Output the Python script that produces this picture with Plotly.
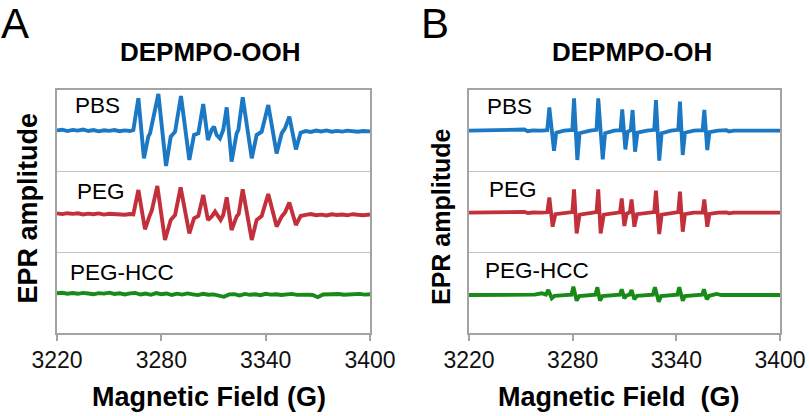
import plotly.graph_objects as go

# ---------------- data ----------------
# Panel A : DEPMPO-OOH
a_pbs_field = [3220, 3223, 3226, 3229, 3232, 3235, 3238, 3241, 3244, 3247, 3250, 3253, 3256, 3259, 3262,
               3263.9, 3266.8, 3270.0, 3272.5, 3273.5, 3278.3, 3282.7, 3285.4, 3287.9, 3291.3, 3296.1,
               3298.8, 3301.3, 3304.1, 3306.8, 3308.9, 3310.3, 3311.8, 3313.7, 3315.6, 3317.6, 3320.4,
               3323.3, 3324.3, 3326.8, 3332.0, 3334.8, 3337.7, 3341.5, 3346.3, 3349.2, 3351.1, 3353.6,
               3357.4, 3360.1, 3363, 3366, 3369, 3372, 3375, 3378, 3381, 3384, 3387, 3390, 3393, 3396, 3400]
a_pbs_amp = [0.3, 1.0, -0.4, 0.8, 0.1, 1.2, -0.3, 0.6, -0.6, 0.4, -0.2, 0.7, -0.5, 0.3, -0.3,
             0.7, 32.4, -27.6, -6.0, -2.7, 36.7, -35.3, -6.0, -1.0, 34.7, -29.3,
             -4.3, -2.7, 26.7, -9.3, 0.7, 4.0, -4.3, -7.7, 0.7, 23.4, -31.0,
             -2.7, 0.7, 33.4, -27.6, -4.3, -1.0, 25.7, -22.7, -2.7, 2.3, 14.0,
             -18.7, -2.0, -0.4, -1.2, 0.2, -0.8, 0.3, -1.0, -0.2, -0.9, 0.1, -0.6, -1.1, -0.3, -0.7]

a_peg_field = [3220, 3223, 3226, 3229, 3232, 3235, 3238, 3241, 3244, 3247, 3250, 3253, 3256, 3259, 3262,
               3263.9, 3266.8, 3270.6, 3273.1, 3274.5, 3277.7, 3282.1, 3285.4, 3287.9, 3291.1, 3296.1,
               3298.8, 3301.3, 3304.1, 3306.8, 3308.9, 3310.9, 3312.8, 3314.1, 3315.6, 3317.6, 3320.4,
               3323.3, 3324.5, 3326.8, 3332.0, 3334.8, 3337.7, 3341.5, 3346.3, 3349.2, 3351.1, 3353.6,
               3357.4, 3360.1, 3363, 3366, 3369, 3372, 3375, 3378, 3381, 3384, 3387, 3390, 3393, 3396, 3400]
a_peg_amp = [0.9, 0.2, 1.1, 0.4, 1.0, -0.2, 0.7, 0.1, 0.9, -0.3, 0.5, 0.2, 0.8, -0.4, 0.3,
             0.0, 24.3, -15.0, -2.3, 3.7, 28.3, -25.7, -5.7, -0.7, 27.0, -19.0,
             -4.0, -1.7, 19.3, -5.7, -2.3, 2.7, -2.3, -5.7, -0.7, 17.0, -15.7,
             -2.3, 0.3, 25.0, -25.7, -5.7, -1.7, 20.3, -12.3, -2.3, 1.7, 11.7,
             -10.7, -1.7, -0.6, 0.2, -0.9, -0.3, -1.1, 0.0, -0.7, -0.2, -1.0, 0.1, -0.5, -0.9, -0.2]

a_hcc_field = [3220, 3223, 3226, 3229, 3232, 3235, 3238, 3241, 3244, 3247, 3250, 3253, 3256, 3259, 3262,
               3265, 3268, 3271, 3274, 3277, 3280, 3283, 3286, 3289, 3292, 3295, 3298, 3301, 3304, 3307,
               3310, 3313, 3316, 3319, 3322, 3325, 3328, 3331, 3334, 3337, 3340, 3343, 3346, 3349, 3352,
               3355, 3358, 3361, 3364, 3367, 3370, 3373, 3376, 3379, 3382, 3385, 3388, 3391, 3394, 3397, 3400]
a_hcc_amp = [0.8, 1.2, 0.3, 1.0, 0.2, 1.1, 0.5, -0.3, 0.9, 0.4, 1.3, 0.1, 0.7, -0.4, 0.6,
             1.0, -0.5, 0.4, -0.8, 0.9, -0.2, 0.5, -1.0, 0.3, -0.6, 0.6, -0.3, -1.1, 0.2, -0.7,
             -0.4, -1.2, -2.8, -0.4, -0.2, -1.5, 0.1, -0.8, -0.3, -1.2, 0.2, -0.6, -0.2, -1.0, -0.4,
             0.1, -0.9, -0.3, -0.6, -1.0, -3.2, -0.5, -0.2, -0.6, 0.0, -0.7, -0.3, -0.5, 0.1, -0.6, -0.3]

# Panel B : DEPMPO-OH
b_pbs_field = [3220, 3230, 3240, 3248, 3252, 3254, 3257, 3262, 3265.3,
               3266.5, 3269.2, 3270.5, 3275, 3279.8,
               3280.8, 3282.7, 3284.0, 3290, 3293.8,
               3294.8, 3297.4, 3298.8, 3304, 3307.7,
               3308.7, 3310.5, 3311.8, 3313.6,
               3314.7, 3316.1, 3317.5, 3323, 3327.2,
               3328.2, 3330.1, 3331.5, 3337, 3341.1,
               3342.1, 3343.7, 3345.0, 3350, 3355.2,
               3356.2, 3357.9, 3359.2, 3364, 3369, 3370.5, 3373, 3385, 3400]
b_pbs_amp = [0.0, 0.3, 0.0, 0.3, 1.2, -0.5, 0.3, 0.0, 0.5,
             23.3, -20.0, -2.0, 0.0, 0.8,
             32.3, -29.3, -2.5, 0.0, 0.8,
             32.3, -28.7, -2.5, 0.0, 0.5,
             21.3, -18.7, -1.0, 0.5,
             20.7, -21.0, -2.0, 0.0, 0.8,
             30.7, -30.0, -2.5, 0.0, 0.8,
             29.0, -24.3, -2.0, 0.0, 0.5,
             20.7, -19.3, -1.5, 0.0, 0.5, -0.8, 0.0, 0.0, 0.0]

b_peg_field = [3220, 3230, 3240, 3248, 3252, 3254, 3257, 3262, 3265.3,
               3266.5, 3268.4, 3270.0, 3275, 3279.8,
               3280.8, 3282.3, 3284.0, 3290, 3293.8,
               3294.8, 3296.2, 3298.0, 3304, 3307.4,
               3308.4, 3309.9, 3311.3, 3313.1,
               3314.1, 3315.7, 3317.2, 3323, 3327.2,
               3328.2, 3330.1, 3331.5, 3337, 3341.1,
               3342.1, 3343.7, 3345.0, 3350, 3355.2,
               3356.2, 3357.9, 3359.2, 3364, 3369, 3370.5, 3373, 3385, 3400]
b_peg_amp = [0.0, 0.2, 0.0, 0.3, 0.9, -0.4, 0.2, 0.0, 0.4,
             15.3, -14.0, -1.5, 0.0, 0.6,
             23.3, -20.7, -2.0, 0.0, 0.6,
             23.3, -20.7, -2.0, 0.0, 0.4,
             14.3, -13.3, -1.0, 0.4,
             13.3, -14.0, -1.5, 0.0, 0.6,
             22.0, -21.3, -2.0, 0.0, 0.6,
             21.0, -19.0, -1.5, 0.0, 0.4,
             13.3, -14.0, -1.2, 0.0, 0.4, -0.6, 0.0, 0.0, 0.0]

b_hcc_field = [3220, 3240, 3258, 3262.1, 3264.5,
               3265.9, 3267.9, 3269.5, 3275, 3279.3,
               3280.4, 3282.3, 3283.8, 3290, 3293.2,
               3294.3, 3295.8, 3297.3, 3304, 3307.3,
               3308.4, 3309.9, 3311.2, 3313.0,
               3314.1, 3315.7, 3317.2, 3323, 3326.5,
               3327.6, 3329.8, 3331.2, 3337, 3340.6,
               3341.7, 3343.7, 3345.0, 3350, 3354.9,
               3356.0, 3357.6, 3359.0, 3363.3, 3366, 3380, 3400]
b_hcc_amp = [0.0, 0.0, 0.3, 1.7, 0.4,
             5.0, -3.3, -0.8, 0.0, 0.4,
             8.3, -5.7, -1.0, 0.0, 0.4,
             7.7, -5.7, -1.0, 0.0, 0.4,
             5.7, -3.3, -0.5, 0.4,
             5.0, -4.3, -0.8, 0.0, 0.4,
             7.7, -6.7, -1.0, 0.0, 0.4,
             7.7, -5.7, -1.0, 0.0, 0.4,
             5.7, -4.3, -0.8, 1.0, 0.0, 0.0, 0.0]

x_ticks = [3220, 3280, 3340, 3400]
sample_names = ["PBS", "PEG", "PEG-HCC"]
colors = {"PBS": "#1b78c4", "PEG": "#c2313b", "PEG-HCC": "#178a17"}
# vertical stacking offsets (arbitrary amplitude units)
offsets_a = {"PBS": 202.3, "PEG": 118.7, "PEG-HCC": 39.0}
offsets_b = {"PBS": 202.3, "PEG": 120.3, "PEG-HCC": 38.0}

panel_a = {"PBS": (a_pbs_field, a_pbs_amp), "PEG": (a_peg_field, a_peg_amp),
           "PEG-HCC": (a_hcc_field, a_hcc_amp)}
panel_b = {"PBS": (b_pbs_field, b_pbs_amp), "PEG": (b_peg_field, b_peg_amp),
           "PEG-HCC": (b_hcc_field, b_hcc_amp)}

# ---------------- figure ----------------
W, H = 810, 416
FONT = "Liberation Sans, Arial, sans-serif"
fig = go.Figure()

for name in sample_names:
    f, a = panel_a[name]
    fig.add_trace(go.Scatter(x=f, y=[v + offsets_a[name] for v in a], mode="lines",
                             line=dict(color=colors[name], width=3.9), xaxis="x", yaxis="y",
                             hoverinfo="skip"))
for name in sample_names:
    f, a = panel_b[name]
    fig.add_trace(go.Scatter(x=f, y=[v + offsets_b[name] for v in a], mode="lines",
                             line=dict(color=colors[name], width=3.8), xaxis="x2", yaxis="y2",
                             hoverinfo="skip"))

frame = "#a3a3a3"
xcommon = dict(range=[3220, 3400], tickvals=x_ticks, ticktext=[str(t) for t in x_ticks],
               ticks="outside", ticklen=6, tickwidth=1.5, tickcolor=frame,
               showline=True, linecolor=frame, linewidth=1.5, mirror=True,
               showgrid=False, zeroline=False, automargin=False,
               tickfont=dict(family=FONT, size=23, color="#111"))
ycommon = dict(range=[0, 243], tickvals=[81, 162], showticklabels=False, ticks="",
               showline=True, linecolor=frame, linewidth=1.5, mirror=True,
               showgrid=True, gridcolor="#c4c4c4", gridwidth=1.3, zeroline=False,
               automargin=False)

def px(x):
    return x / W

def py(y):
    return 1 - y / H

fig.update_layout(
    template="none",
    width=W, height=H, margin=dict(l=0, r=0, t=0, b=0, autoexpand=False),
    paper_bgcolor="white", plot_bgcolor="white", showlegend=False,
    xaxis=dict(domain=[px(57), px(370)], anchor="y", **xcommon),
    yaxis=dict(domain=[py(333), py(90)], anchor="x", **ycommon),
    xaxis2=dict(domain=[px(469), px(780)], anchor="y2", **xcommon),
    yaxis2=dict(domain=[py(333), py(90)], anchor="x2", **ycommon),
)

ann = []
def add_text(text, x, y, size, bold=False, angle=0, xanchor="center"):
    ann.append(dict(text=f"<b>{text}</b>" if bold else text, x=px(x), y=py(y),
                    xref="paper", yref="paper", showarrow=False, xanchor=xanchor,
                    yanchor="middle", textangle=angle,
                    font=dict(family=FONT, size=size, color="#000")))

add_text("A", 15, 23, 42)
add_text("B", 435, 23, 42)
add_text("DEPMPO-OOH", 210, 52, 26, bold=True)
add_text("DEPMPO-OH", 632, 52, 26, bold=True)
add_text("EPR amplitude", 27.5, 208, 27, bold=True, angle=-90)
add_text("EPR amplitude", 441, 216, 25, bold=True, angle=-90)
add_text("Magnetic Field (G)", 208.5, 397, 27, bold=True)
add_text("Magnetic Field\u00a0\u00a0(G)", 619, 397, 27, bold=True)

label_pos_a = {"PBS": (73, 105), "PEG": (75, 191), "PEG-HCC": (68, 272)}
label_pos_b = {"PBS": (485, 107), "PEG": (487, 189), "PEG-HCC": (483, 270)}
for name in sample_names:
    add_text(name, *label_pos_a[name], 22.5, xanchor="left")
    add_text(name, *label_pos_b[name], 22.5, xanchor="left")

fig.update_layout(annotations=ann)
fig.write_html("out.html", config={"displayModeBar": False},
               post_script="document.body.style.margin='0px';")
